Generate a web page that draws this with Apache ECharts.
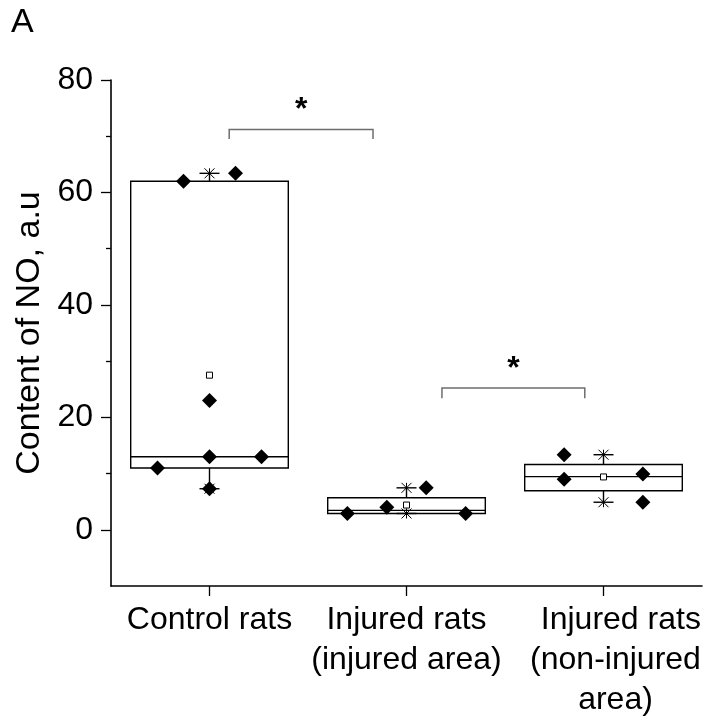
<!DOCTYPE html>
<html><head><meta charset="utf-8">
<script src="https://cdn.jsdelivr.net/npm/echarts@6/dist/echarts.min.js"></script>
<style>html,body{margin:0;padding:0;background:#fff}#c{width:711px;height:720px}</style>
</head><body><div id="c"></div>
<script>
// ---- data ----
const categories = ['Control rats', 'Injured rats\n(injured area)', 'Injured rats\n(non-injured\narea)'];
const yTicks = [0, 20, 40, 60, 80];
const yMinorTicks = [10, 30, 50, 70];
const boxQ1 = [11.0, 2.9, 6.95];
const boxMedian = [13.0, 3.45, 9.45];
const boxQ3 = [62.0, 5.7, 11.6];
const whiskerMin = [7.3, 2.9, 4.9];
const whiskerMax = [63.4, 7.46, 13.35];
const means = [27.5, 4.4, 9.4];
const pointsControl = [62.0, 63.4, 23.0, 13.0, 13.0, 11.0, 7.3];
const jitterControl = [-0.132, 0.132, 0, 0, 0.264, -0.264, 0];
const pointsInjuredArea = [2.9, 4.0, 7.46, 2.9];
const jitterInjuredArea = [-0.3, -0.1, 0.1, 0.3];
const pointsNonInjured = [13.35, 9.0, 9.9, 4.9];
const jitterNonInjured = [-0.2, -0.2, 0.2, 0.2];
const bracketX1 = [0.10, 1.18];
const bracketX2 = [0.83, 1.905];
const bracketTop = [71.2, 25.2];
const bracketFoot = [69.5, 23.4];
const starY = [75.9, 29.8];

// ---- build ----
const FONT = 'Liberation Sans, Arial, Helvetica, sans-serif';
const groups = [
  [pointsControl, jitterControl],
  [pointsInjuredArea, jitterInjuredArea],
  [pointsNonInjured, jitterNonInjured]
];
const pointData = [];
groups.forEach((g, i) => g[0].forEach((v, k) => pointData.push([i + g[1][k], v])));
const boxData = categories.map((c, i) => [i, boxQ1[i], boxMedian[i], boxQ3[i], whiskerMin[i], whiskerMax[i]]);
const meanData = means.map((m, i) => [i, m]);
const bracketData = bracketX1.map((x, i) => [x, bracketX2[i], bracketTop[i], bracketFoot[i], starY[i]]);

function line(x1, y1, x2, y2, w, color) {
  return {type: 'line', shape: {x1, y1, x2, y2}, style: {stroke: color || '#000', lineWidth: w || 1.4}};
}
function renderBox(params, api) {
  const i = api.value(0);
  const half = 0.4;
  const tl = api.coord([i - half, api.value(3)]);
  const br = api.coord([i + half, api.value(1)]);
  const cx = api.coord([i, 0])[0];
  const yMed = api.coord([i, api.value(2)])[1];
  const yQ1 = br[1], yQ3 = tl[1];
  const yMin = api.coord([i, api.value(4)])[1];
  const yMax = api.coord([i, api.value(5)])[1];
  const ch = [];
  ch.push({type: 'rect', shape: {x: tl[0], y: tl[1], width: br[0] - tl[0], height: br[1] - tl[1]},
    style: {fill: 'none', stroke: '#000', lineWidth: 1.4}});
  ch.push(line(tl[0], yMed, br[0], yMed));
  ch.push(line(cx, yQ3, cx, yMax));
  ch.push(line(cx, yQ1, cx, yMin));
  [yMax, yMin].forEach(y => {
    ch.push(line(cx - 10, y, cx + 10, y));
    ch.push(line(cx - 5, y - 5, cx + 5, y + 5, 1));
    ch.push(line(cx - 5, y + 5, cx + 5, y - 5, 1));
    ch.push(line(cx, y - 5, cx, y + 5, 1));
  });
  return {type: 'group', children: ch};
}
function renderBracket(params, api) {
  const a = api.coord([api.value(0), api.value(3)]);
  const b = api.coord([api.value(0), api.value(2)]);
  const c = api.coord([api.value(1), api.value(2)]);
  const d = api.coord([api.value(1), api.value(3)]);
  const s = api.coord([(api.value(0) + api.value(1)) / 2, api.value(4)]);
  return {type: 'group', children: [
    {type: 'polyline', shape: {points: [a, b, c, d]}, style: {fill: 'none', stroke: '#6e6e6e', lineWidth: 1.5}},
    {type: 'text', x: s[0], y: s[1] + 7, style: {text: '*', fontSize: 32, fontWeight: 'bold', fontFamily: FONT,
      fill: '#000', align: 'center', verticalAlign: 'middle'}}
  ]};
}

const chart = echarts.init(document.getElementById('c'), null, {renderer: 'canvas'});
const labelRich = {
  n: {fontSize: 32, lineHeight: 40, fontFamily: FONT, color: '#000'},
  r: {fontSize: 32, lineHeight: 40, fontFamily: FONT, color: '#000', align: 'right', padding: [0, 0, 0, 24]},
  c: {fontSize: 32, lineHeight: 40, fontFamily: FONT, color: '#000', align: 'center', padding: [0, 0, 0, 24]}
};
chart.setOption({
  animation: false,
  backgroundColor: '#fff',
  grid: {left: 111, right: 9, top: 80, bottom: 130, containLabel: false},
  graphic: [{type: 'text', left: 11, top: 6, style: {text: 'A', fontSize: 34, fontFamily: FONT, fill: '#000'}}],
  xAxis: {
    type: 'value', min: -0.5, max: 2.5,
    splitLine: {show: false},
    axisLine: {onZero: false, lineStyle: {color: '#000', width: 1.6}},
    axisTick: {customValues: [0, 1, 2], length: 10, lineStyle: {color: '#000', width: 1.3}},
    axisLabel: {
      customValues: [0, 1, 2], margin: 14, fontSize: 32, lineHeight: 40, fontFamily: FONT, color: '#000',
      formatter: function (v) {
        const idx = Math.round(v);
        const lines = categories[idx].split('\n');
        if (idx === categories.length - 1 && lines.length > 2) {
          return lines.map((l, k) => (k === lines.length - 1 ? '{c|' : '{r|') + l + '}').join('\n');
        }
        return lines.map(l => '{n|' + l + '}').join('\n');
      },
      rich: labelRich
    }
  },
  yAxis: [{
    type: 'value', min: -10, max: 80, position: 'left',
    name: 'Content of NO, a.u', nameLocation: 'middle', nameGap: 64,
    nameTextStyle: {fontSize: 34, fontFamily: FONT, color: '#000'},
    splitLine: {show: false},
    axisLine: {show: true, onZero: false, lineStyle: {color: '#000', width: 1.6}},
    axisTick: {show: true, customValues: yTicks, length: 10, lineStyle: {color: '#000', width: 1.3}},
    axisLabel: {customValues: yTicks, margin: 18, fontSize: 32, fontFamily: FONT, color: '#000'}
  }, {
    type: 'value', min: -10, max: 80, position: 'left', offset: 0,
    splitLine: {show: false},
    axisLine: {show: false, onZero: false},
    axisTick: {show: true, customValues: yMinorTicks, length: 5, lineStyle: {color: '#000', width: 1.3}},
    axisLabel: {show: false}
  }],
  series: [
    {type: 'custom', name: 'Boxes', renderItem: renderBox, data: boxData, encode: {x: 0, y: [1, 2, 3, 4, 5]}, z: 2, silent: true},
    {type: 'custom', name: 'Significance', renderItem: renderBracket, data: bracketData, encode: {x: [0, 1], y: [2, 3, 4]}, z: 2, silent: true},
    {type: 'scatter', name: 'Points', data: pointData, symbol: 'diamond', symbolSize: 15,
      itemStyle: {color: '#000', opacity: 1}, z: 4},
    {type: 'scatter', name: 'Mean', data: meanData, symbol: 'rect', symbolSize: 6,
      itemStyle: {color: '#fff', borderColor: '#000', borderWidth: 1, opacity: 1}, z: 5}
  ]
});
</script>
</body></html>
